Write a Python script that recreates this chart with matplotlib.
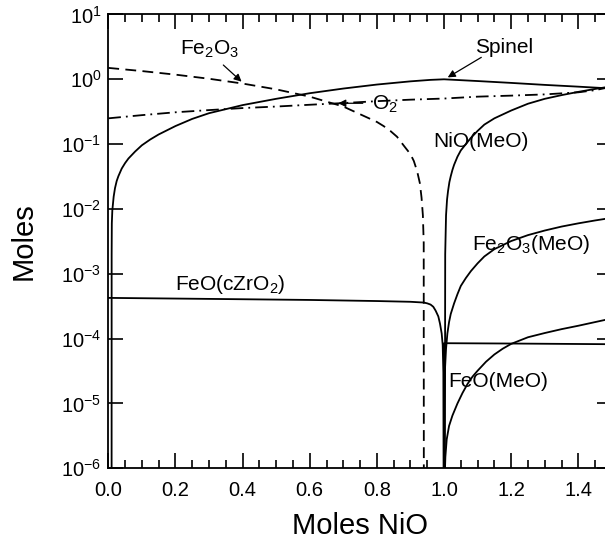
import numpy as np
import matplotlib
matplotlib.use('Agg')
import matplotlib.pyplot as plt
from matplotlib.ticker import MultipleLocator, FormatStrFormatter, LogLocator, NullLocator

plt.rcParams['font.family'] = ['Liberation Sans', 'DejaVu Sans']
plt.rcParams['mathtext.fontset'] = 'custom'
plt.rcParams['mathtext.rm'] = 'Liberation Sans'
plt.rcParams['mathtext.it'] = 'Liberation Sans:italic'
plt.rcParams['mathtext.bf'] = 'Liberation Sans:bold'
plt.rcParams['mathtext.default'] = 'regular'

# values (moles vs moles NiO)
fe2o3_x = [0, 0.1, 0.2, 0.3, 0.4, 0.5, 0.6, 0.7, 0.8, 0.82, 0.84, 0.86, 0.88, 0.9, 0.91, 0.92,
           0.928, 0.933, 0.937, 0.9395, 0.94]
fe2o3_y = [1.5, 1.34, 1.18, 1.02, 0.86, 0.70, 0.54, 0.38, 0.22, 0.19, 0.16, 0.13, 0.095, 0.07, 0.055,
           0.038, 0.025, 0.015, 0.008, 0.003, 1e-8]

o2_x = [0, 0.1, 0.2, 0.3, 0.4, 0.5, 0.6, 0.7, 0.8, 0.9, 1.0, 1.1, 1.2, 1.3, 1.4, 1.45, 1.5]
o2_y = [0.25, 0.28, 0.31, 0.335, 0.36, 0.38, 0.405, 0.43, 0.46, 0.485, 0.505, 0.54, 0.56, 0.585,
        0.63, 0.68, 0.77]

spinel_x = [0.0098, 0.0100, 0.0105, 0.012, 0.016, 0.02, 0.025, 0.03, 0.04, 0.05, 0.06, 0.08, 0.1,
            0.125, 0.15, 0.2, 0.25, 0.3, 0.4, 0.5, 0.6, 0.7, 0.8, 0.9, 0.96, 1.0,
            1.1, 1.2, 1.3, 1.4, 1.5]
spinel_y = [1e-8, 0.002, 0.006, 0.0095, 0.0155, 0.021, 0.027, 0.032, 0.042, 0.051, 0.06, 0.077, 0.096,
            0.118, 0.141, 0.19, 0.245, 0.30, 0.40, 0.50, 0.61, 0.72, 0.83, 0.93, 0.98, 1.0,
            0.94, 0.88, 0.82, 0.77, 0.72]

nio_x = [1.002, 1.0035, 1.006, 1.009, 1.012, 1.016, 1.02, 1.025, 1.03, 1.04, 1.05, 1.065, 1.08,
         1.1, 1.12, 1.15, 1.2, 1.25, 1.3, 1.35, 1.4, 1.45, 1.5]
nio_y = [1e-8, 0.002, 0.008, 0.014, 0.019, 0.026, 0.032, 0.04, 0.048, 0.064, 0.08, 0.10, 0.125,
         0.16, 0.2, 0.25, 0.33, 0.42, 0.5, 0.57, 0.64, 0.71, 0.78]

fe2o3_meo_x = [1.0, 1.001, 1.003, 1.006, 1.01, 1.015, 1.02, 1.03, 1.04, 1.05, 1.065, 1.08, 1.1,
               1.12, 1.15, 1.2, 1.25, 1.3, 1.35, 1.4, 1.45, 1.5]
fe2o3_meo_y = [1e-8, 1e-5, 3.5e-5, 7e-5, 1.2e-4, 1.8e-4, 2.4e-4, 3.5e-4, 4.85e-4, 6.5e-4, 8.6e-4,
               1.1e-3, 1.45e-3, 1.85e-3, 2.4e-3, 3.2e-3, 3.95e-3, 4.65e-3, 5.35e-3, 6.0e-3, 6.65e-3,
               7.3e-3]

feo_meo_x = [1.0, 1.001, 1.004, 1.008, 1.015, 1.025, 1.04, 1.055, 1.07, 1.085, 1.1, 1.125, 1.15,
             1.175, 1.2, 1.25, 1.3, 1.35, 1.4, 1.45, 1.5]
feo_meo_y = [1e-8, 5e-7, 1.5e-6, 2.8e-6, 4.5e-6, 6.5e-6, 1.0e-5, 1.45e-5, 2.0e-5, 2.6e-5, 3.2e-5,
             4.4e-5, 5.7e-5, 7.0e-5, 8.3e-5, 1.05e-4, 1.22e-4, 1.4e-4, 1.58e-4, 1.8e-4, 2.05e-4]

feo_zr_x = [0, 0.2, 0.4, 0.6, 0.8, 0.9, 0.94, 0.95, 0.96, 0.968, 0.975, 0.983, 0.988, 0.993, 0.996,
            0.998, 0.9995, 1.0005, 1.2, 1.5]
feo_zr_y = [4.25e-4, 4.15e-4, 4.05e-4, 3.95e-4, 3.8e-4, 3.7e-4, 3.6e-4, 3.5e-4, 3.35e-4, 3.1e-4,
            2.7e-4, 2.2e-4, 1.7e-4, 1.2e-4, 8e-5, 3e-5, 1e-8, 8.5e-5, 8.4e-5, 8.2e-5]

fig = plt.figure(figsize=(6.05, 5.4), dpi=100)
ax = fig.add_axes([0.179, 0.1328, 0.8324, 0.8404])

lw = 1.3
ax.plot(fe2o3_x, fe2o3_y, color='k', lw=lw, dashes=(6, 3.5))
ax.plot(o2_x, o2_y, color='k', lw=lw, dashes=(7, 2.8, 1, 2.8))
ax.plot(spinel_x, spinel_y, color='k', lw=lw)
ax.plot(nio_x, nio_y, color='k', lw=lw)
ax.plot(fe2o3_meo_x, fe2o3_meo_y, color='k', lw=lw)
ax.plot(feo_meo_x, feo_meo_y, color='k', lw=lw)
ax.plot(feo_zr_x, feo_zr_y, color='k', lw=lw)

ax.set_yscale('log')
ax.set_xlim(0, 1.5)
ax.set_ylim(1e-6, 1e1)

# labels + arrows
fs = 15
ax.text(0.303, 2.37, 'Fe$_2$O$_3$', fontsize=fs, ha='center', va='baseline')
ax.text(1.178, 2.51, 'Spinel', fontsize=fs, ha='center', va='baseline')
ax.text(0.786, 0.336, 'O$_2$', fontsize=fs, ha='left', va='baseline')
ax.text(0.968, 0.0914, 'NiO(MeO)', fontsize=fs, ha='left', va='baseline')
ax.text(1.0825, 2.33e-3, 'Fe$_2$O$_3$(MeO)', fontsize=fs, ha='left', va='baseline')
ax.text(0.199, 5.6e-4, 'FeO(cZrO$_2$)', fontsize=fs, ha='left', va='baseline')
ax.text(1.0128, 1.82e-5, 'FeO(MeO)', fontsize=fs, ha='left', va='baseline')

arr = dict(arrowstyle='-|>', color='k', lw=0.9, mutation_scale=11, shrinkA=0, shrinkB=0)
ax.annotate('', xy=(0.397, 0.92), xytext=(0.3426, 1.66), arrowprops=arr)
ax.annotate('', xy=(1.011, 1.07), xytext=(1.111, 2.18), arrowprops=arr)
ax.annotate('', xy=(0.685, 0.427), xytext=(0.758, 0.427), arrowprops=arr)

ax.set_xlabel('Moles NiO', fontsize=21, labelpad=9)
ax.set_ylabel('Moles', fontsize=21, labelpad=17)

ax.xaxis.set_major_locator(MultipleLocator(0.2))
ax.xaxis.set_minor_locator(MultipleLocator(0.05))
ax.xaxis.set_major_formatter(FormatStrFormatter('%.1f'))
ax.yaxis.set_major_locator(LogLocator(base=10, numticks=12))
ax.yaxis.set_minor_locator(NullLocator())
ax.tick_params(which='both', direction='in', top=True, right=True, width=1.2, labelsize=14.5)
ax.tick_params(which='major', length=11)
ax.tick_params(which='minor', length=5.5)
ax.tick_params(axis='x', pad=9)
ax.tick_params(axis='y', pad=5)
for s in ax.spines.values():
    s.set_linewidth(1.3)

fig.savefig('out.png', dpi=100)
